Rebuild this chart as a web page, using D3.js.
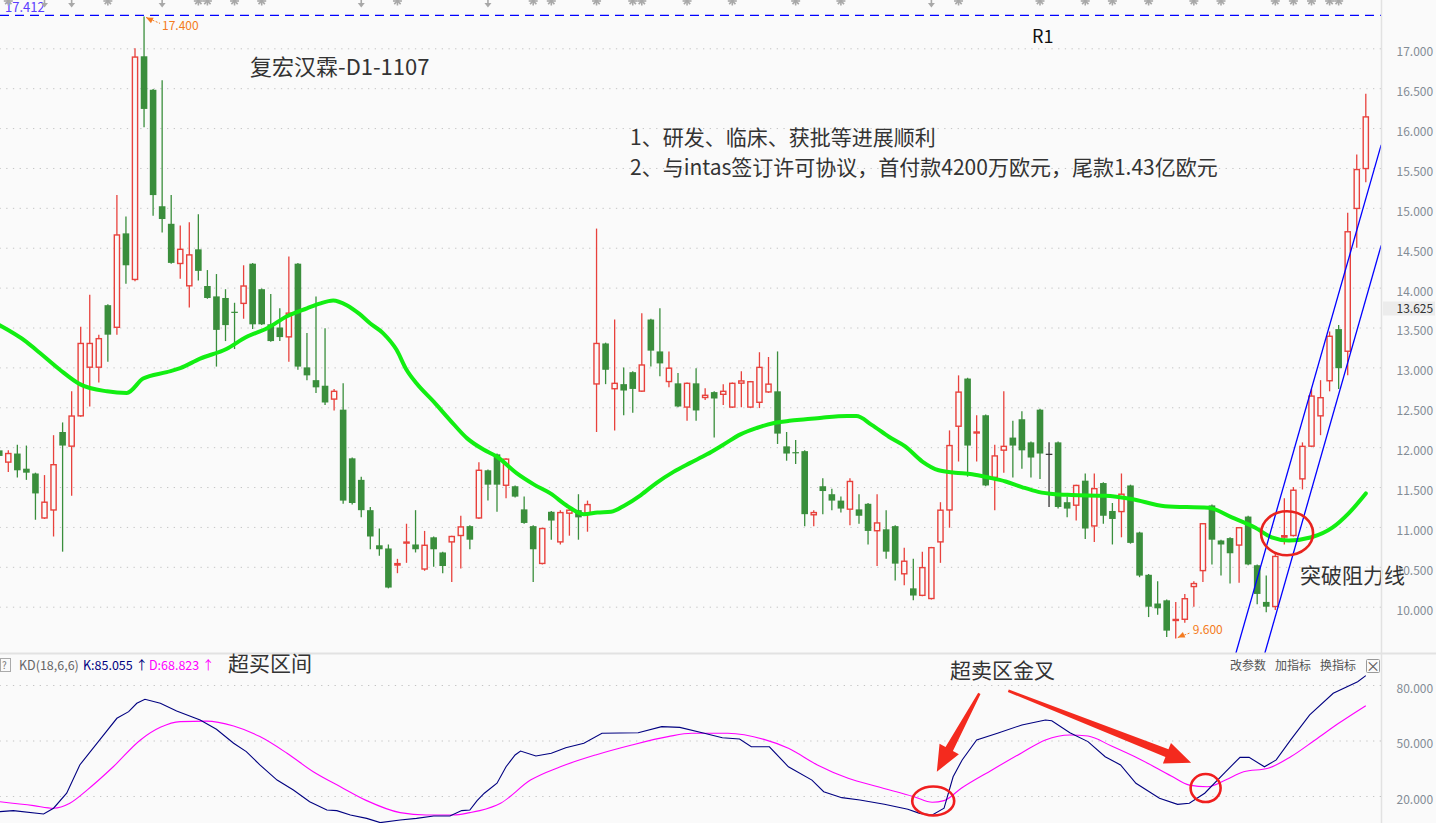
<!DOCTYPE html>
<html><head><meta charset="utf-8">
<script src="https://cdn.jsdelivr.net/npm/d3@7"></script>
<style>
html,body{margin:0;padding:0;background:#fafafa;overflow:hidden}
svg{display:block}
text{font-family:"Noto Sans CJK SC","Noto Sans",sans-serif}
</style></head><body>
<svg id="c" width="1436" height="823"></svg>
<script>
// ---------------- DATA ----------------
const candleOpen = [11.96,11.81,11.92,11.73,11.67,11.11,11.21,12.19,12.01,12.39,
13.00,13.00,13.78,13.50,14.68,14.10,16.90,16.48,15.02,14.80,
14.30,14.02,14.48,14.02,13.89,13.87,13.69,13.80,14.30,13.98,
13.54,13.50,13.38,14.30,13.00,12.84,12.77,12.60,12.47,11.86,
11.59,11.21,10.77,10.73,10.52,10.80,10.78,10.47,10.87,10.68,
10.81,10.89,11.01,11.11,11.71,11.91,11.52,11.51,11.22,11.01,
10.54,11.19,10.81,11.17,11.21,11.17,12.79,13.30,12.73,12.79,
12.94,12.70,13.60,13.20,12.82,12.80,12.50,12.80,12.62,12.69,
12.66,12.50,12.80,12.50,12.56,12.69,12.70,12.01,11.93,11.95,
11.15,11.51,11.41,11.33,11.22,11.22,11.29,10.95,10.97,11.01,
10.41,10.23,10.14,10.10,10.81,11.21,12.26,12.86,12.18,12.40,
11.62,11.96,12.12,12.35,12.06,12.47,11.91,12.06,11.31,11.27,
11.58,11.01,11.55,11.20,11.19,11.52,10.93,10.40,10.04,10.08,
9.83,9.84,10.25,10.45,11.27,10.83,10.86,10.77,11.13,10.52,
10.06,10.00,10.87,10.89,11.60,12.01,12.39,12.83,13.48,13.20,
14.99,15.49];
const candleHigh = [11.98,11.96,12.03,12.02,11.68,11.65,12.15,12.31,12.70,13.51,
13.91,13.41,13.79,15.16,14.89,17.00,17.40,16.49,16.60,15.16,
14.78,14.82,14.92,14.22,14.17,13.98,13.81,14.28,14.31,13.99,
13.92,13.74,14.39,14.31,13.43,13.89,13.49,12.73,12.80,11.87,
11.63,11.25,10.98,10.78,10.60,11.04,11.21,10.95,10.88,10.69,
10.89,11.14,11.02,11.81,11.72,11.92,11.86,11.52,11.38,11.02,
10.99,11.20,11.21,11.23,11.41,11.33,14.74,13.31,13.60,13.00,
12.95,13.68,13.61,13.74,13.20,12.93,12.81,12.99,12.74,12.70,
12.79,12.81,12.95,12.83,13.19,13.13,13.20,12.19,12.09,11.96,
11.21,11.61,11.48,11.38,11.61,11.41,11.30,11.41,11.21,11.02,
10.74,10.60,10.69,10.75,11.31,12.21,12.90,12.87,12.40,12.41,
12.03,12.70,12.33,12.45,12.07,12.48,12.06,12.07,11.38,11.53,
11.67,11.67,11.56,11.30,11.67,11.53,10.94,10.41,10.32,10.09,
10.06,10.16,10.32,11.05,11.28,10.84,10.87,11.00,11.14,10.53,
10.39,10.67,11.36,11.50,12.06,12.73,12.84,13.45,13.53,14.94,
15.67,16.43];
const candleLow = [11.87,11.69,11.62,11.59,11.09,11.10,10.88,10.69,11.39,12.38,
12.51,12.81,13.07,13.41,14.05,14.08,16.01,14.90,14.69,14.30,
14.11,13.75,14.09,13.86,13.01,13.33,13.23,13.61,13.48,13.53,
13.32,13.33,13.07,12.97,12.84,12.68,12.53,12.46,11.29,11.28,
11.12,10.72,10.64,10.23,10.42,10.55,10.68,10.45,10.50,10.42,
10.31,10.48,10.72,11.10,11.33,11.19,11.36,11.37,11.04,10.31,
10.53,10.84,10.78,10.89,10.84,10.94,12.19,12.79,12.21,12.40,
12.43,12.69,13.01,12.89,12.75,12.50,12.33,12.33,12.59,12.12,
12.53,12.49,12.50,12.49,12.49,12.68,12.04,11.83,11.79,11.01,
11.01,11.16,11.21,11.18,11.02,11.04,10.78,10.51,10.60,10.33,
10.27,10.08,10.13,10.09,10.55,10.99,11.82,11.63,11.82,11.51,
11.21,11.68,11.62,11.73,11.62,11.60,11.25,11.23,11.12,11.08,
10.85,10.81,11.04,10.78,10.87,10.79,10.37,9.87,9.90,9.62,
9.60,9.80,10.00,10.31,10.53,10.39,10.29,10.30,10.52,10.03,
9.93,9.96,10.78,10.88,11.47,12.00,12.15,12.70,12.73,12.90,
14.50,15.32];
const candleClose = [11.89,11.92,11.71,11.68,11.42,11.31,11.78,12.02,12.39,13.30,
13.30,13.36,13.41,14.66,14.28,16.89,16.24,15.16,14.86,14.31,
14.48,14.41,14.21,13.87,13.47,13.53,13.68,14.02,13.54,13.54,
13.33,13.38,13.68,13.01,12.90,12.75,12.56,12.70,11.33,11.30,
11.21,10.88,10.72,10.24,10.54,10.81,10.72,10.77,10.72,10.51,
10.88,11.00,10.84,11.71,11.53,11.53,11.85,11.38,11.05,10.72,
10.98,11.08,11.18,11.21,11.12,11.28,13.30,12.97,12.80,12.71,
12.73,13.03,13.21,13.05,12.99,12.51,12.80,12.46,12.65,12.61,
12.70,12.80,12.83,12.82,13.00,12.79,12.17,11.92,11.92,11.16,
11.18,11.45,11.33,11.23,11.57,11.14,10.95,11.05,10.69,10.54,
10.57,10.14,10.49,10.74,11.21,12.02,12.69,12.02,12.19,11.52,
11.89,12.01,12.02,11.96,11.87,11.92,11.91,11.25,11.23,11.52,
10.98,11.48,11.14,11.10,11.41,10.80,10.39,10.00,9.98,9.70,
9.84,10.10,10.29,11.04,10.84,10.78,10.67,10.99,10.53,10.16,
10.00,10.63,10.89,11.46,12.01,12.64,12.62,13.39,12.99,14.70,
15.48,16.14];

// moving average read at candle positions [candle index, price]
const maLine = [[0,13.53],[3,13.32],[4.5,13.18],[6.7,12.97],[8.9,12.79],[11.9,12.70],[14.1,12.68],[15.9,12.86],[18.5,12.94],[20,12.99],[22.2,13.11],[25.1,13.23],[27.3,13.38],[29.6,13.49],[31.8,13.64],[34,13.74],[35.4,13.80],[36.9,13.84],[38.4,13.78],[39.8,13.67],[41,13.55],[42.4,13.43],[43.9,13.22],[45,12.97],[46.1,12.80],[48,12.57],[49.8,12.34],[51.7,12.11],[53.5,11.97],[55,11.88],[57.2,11.67],[59.1,11.53],[60.9,11.42],[62.8,11.26],[64.6,11.16],[66.1,11.18],[67.6,11.19],[69.1,11.27],[70.9,11.40],[72.6,11.55],[74.5,11.69],[76.3,11.80],[78.2,11.91],[80,12.03],[81.9,12.16],[83.7,12.24],[85.5,12.30],[87.3,12.33],[89.1,12.35],[90.9,12.37],[93.7,12.39],[94.7,12.39],[96.4,12.28],[98.3,12.13],[100.1,12.01],[102,11.82],[103.8,11.71],[105.6,11.68],[107.5,11.66],[109.3,11.62],[111.2,11.57],[113,11.50],[114.8,11.44],[116.7,11.41],[118.5,11.40],[122.2,11.39],[125.1,11.35],[128.8,11.26],[133.6,11.24],[136.2,11.12],[138.8,10.99],[140.6,10.87],[142.5,10.83],[145,10.87],[147.3,10.99],[149.1,11.17],[151,11.42]];

// KD indicator read at candle positions [candle index, value]
const kLine = [[0,11.5],[1.55,12.1],[4.9,10.3],[6,13.4],[7.45,21.5],[8.9,36.8],[11.1,50.3],[13,62],[14.3,65.6],[15.2,70.1],[16.1,72.3],[17.8,70.1],[19.6,65.9],[22.2,61.1],[24,56.1],[25.9,48.5],[27.3,44],[28.8,36.8],[30.7,28.6],[32.5,23.2],[34.3,16.9],[36.2,12.4],[37.3,12.1],[38.8,9.7],[40.6,7.9],[42.1,5.6],[44.3,7],[46.1,7.9],[48,9.2],[49.8,9.2],[51.1,12.1],[52,12.4],[52.8,17.5],[53.6,21.5],[55,26.9],[56,35.8],[57,42.2],[57.6,44.3],[59.3,41.6],[61,43.1],[62.6,46.1],[64.6,48.5],[66.6,53.9],[70.6,54.2],[73.2,57.5],[75.2,57.1],[77.9,53.9],[79.9,51.5],[81.8,50.8],[83.1,46.6],[85.1,46.6],[87.2,35.8],[89.8,28.6],[91.1,22.3],[93.1,19.1],[95.1,17.8],[97.8,15.5],[100.4,12.8],[101.7,10.6],[103.1,9.7],[104.4,13.4],[105.4,30.4],[106.4,39.5],[108,50.3],[110.3,53.9],[113,58.4],[115.6,61.1],[116.3,60.7],[118.3,54.2],[120.3,49.4],[122.2,41.2],[123.9,36.8],[125.6,26.9],[128.2,18.8],[130.2,15.5],[131.5,16.1],[133.2,21.5],[135.5,33.1],[137.1,40.9],[138.1,40.9],[139.8,35.8],[141.1,39.5],[142.7,50.3],[144.8,63.8],[147.4,75.5],[150.1,81.8],[151,85.06]];
const dLine = [[0,16.9],[3.8,14.8],[6,13.4],[7.8,16.1],[9.7,23.2],[12.6,35.8],[15.6,50.3],[17.8,57.1],[20,60.2],[22.9,60.5],[25.9,57.8],[28.8,52.1],[31.8,43.1],[34.7,33.1],[37.7,25],[40.6,17.5],[44.3,11],[47.2,9.7],[50.2,9.7],[52,11],[53.1,12.1],[55.4,16.1],[58.7,28.6],[62,35.8],[65.9,42.2],[69.9,47.6],[73.9,52.1],[76.5,53.9],[80.5,53.9],[84.5,50.6],[87.2,45.8],[90.4,36.8],[93.8,29.6],[97.1,25],[101.1,19.6],[103.1,16.6],[104.4,17.5],[106.3,24.2],[109.7,34.1],[113,43.4],[115.6,50.3],[118.3,53],[120.3,52.4],[122.9,47],[126.2,39.5],[129.5,30.8],[131.5,25.9],[133.5,25],[135.5,28.6],[137.5,33.1],[140.2,35],[142.7,41.2],[145.4,50.3],[148,59.3],[151,68.82]];

const priceTicks = [10,10.5,11,11.5,12,12.5,13,13.5,14,14.5,15,15.5,16,16.5,17];
const kdTicks = [20,50,80];
const resistanceLevel = 17.412;
const currentMark = 13.625;
// channel lines [candle index, price]
const channelLines = [[[136.6,9.40],[152.7,15.79]],[[139.8,9.40],[152.7,14.53]]];
// event markers on top row [candle index, type]
const eventMarks = [[1,"s"],[5,"a"],[8,"a"],[12,"s"],[18,"a"],[22,"s"],[23,"s"],[26,"s"],[29,"s"],[40,"a"],[44,"s"],[54,"a"],[59,"s"],[61,"s"],[66,"s"],[70,"s"],[71,"s"],[76,"s"],[81,"s"],[88,"s"],[93,"s"],[103,"a"],[106,"s"],[115,"s"],[120,"s"],[123,"s"],[127,"s"],[132,"s"],[135,"s"],[141,"s"],[143,"s"],[145,"s"],[147,"s"],[148,"s"]];
const kdLegend = {name:"KD(18,6,6)", k:"K:85.055", d:"D:68.823"};

// ---------------- LAYOUT ----------------
const W=1436, H=823, AX=1381, PB=653;
const svg = d3.select("#c");
const x = d3.scaleLinear().domain([1,151]).range([8.3,1365.8]);
const y = d3.scaleLinear().domain([10,17]).range([606.7,48.3]);
const yk = d3.scaleLinear().domain([20,80]).range([796,685]);

const RED="#e8413c", GREEN="#3a8e3c", BG="#fafafa";
svg.append("rect").attr("width",W).attr("height",H).attr("fill",BG);

const defs = svg.append("defs");
defs.append("clipPath").attr("id","cp").append("rect").attr("x",0).attr("y",0).attr("width",AX).attr("height",PB);
defs.append("clipPath").attr("id","ck").append("rect").attr("x",0).attr("y",PB+1).attr("width",AX).attr("height",H-PB-1);

// gridlines price
const gridP = svg.append("g").attr("transform",`translate(${AX},0)`)
  .call(d3.axisLeft(y).tickValues(priceTicks).tickSize(AX).tickFormat(""));
gridP.select(".domain").remove();
gridP.selectAll("line").attr("stroke","#c4c4c4").attr("stroke-dasharray","1.3,5.4");

// price labels
const axP = svg.append("g").attr("transform",`translate(${AX},0)`)
  .call(d3.axisRight(y).tickValues(priceTicks).tickSize(0).tickPadding(15.5).tickFormat(d3.format(".3f")));
axP.select(".domain").remove();
axP.selectAll("text").attr("font-family","Liberation Sans, Arial, sans-serif").attr("font-size",12).attr("fill","#838c96").attr("dy","0.62em").attr("text-anchor","start");

// current price label box
svg.append("rect").attr("x",AX+2).attr("y",y(currentMark)-16).attr("width",52).attr("height",14).attr("fill","#ececec");
svg.append("text").attr("x",AX+15.5).attr("y",y(currentMark)-4.5).text(d3.format(".3f")(currentMark))
  .attr("font-family","Liberation Sans, Arial, sans-serif").attr("font-size",12).attr("fill","#333");

const pg = svg.append("g").attr("clip-path","url(#cp)");

// resistance dashed line
pg.append("line").attr("x1",0).attr("x2",AX).attr("y1",y(resistanceLevel)).attr("y2",y(resistanceLevel))
  .attr("stroke","#0000ff").attr("stroke-width",1.3).attr("stroke-dasharray","9,6");

// candles
const idx = d3.range(candleOpen.length);
const colorOf = i => candleClose[i]>candleOpen[i] ? RED : (candleClose[i]<candleOpen[i] ? GREEN : "#333");
const cg = pg.append("g");
cg.selectAll("line.w").data(idx).join("line").attr("class","w")
  .attr("x1",i=>x(i)).attr("x2",i=>x(i)).attr("y1",i=>y(candleHigh[i])).attr("y2",i=>y(candleLow[i]))
  .attr("stroke",colorOf).attr("stroke-width",1.3);
cg.selectAll("rect.b").data(idx).join("rect").attr("class","b")
  .each(function(i){
    const up = candleClose[i]>candleOpen[i];
    const top = y(Math.max(candleOpen[i],candleClose[i])), bot = y(Math.min(candleOpen[i],candleClose[i]));
    const h = Math.max(1.2, bot-top);
    const s = d3.select(this);
    if(up){
      s.attr("x",x(i)-2.6).attr("width",5.2).attr("y",top).attr("height",Math.max(1,h-0.2))
       .attr("fill",BG).attr("stroke",RED).attr("stroke-width",1.4);
    } else {
      s.attr("x",x(i)-3.3).attr("width",6.6).attr("y",top-(h<=1.2?0.6:0)).attr("height",h)
       .attr("fill",colorOf(i));
    }
  });

// moving average
pg.append("path").datum(maLine)
  .attr("d",d3.line().x(d=>x(d[0])).y(d=>y(d[1])).curve(d3.curveMonotoneX))
  .attr("fill","none").attr("stroke","#12ee12").attr("stroke-width",4).attr("stroke-linecap","round").attr("stroke-linejoin","round");

// channel lines
pg.selectAll("line.ch").data(channelLines).join("line").attr("class","ch")
  .attr("x1",d=>x(d[0][0])).attr("y1",d=>y(d[0][1])).attr("x2",d=>x(d[1][0])).attr("y2",d=>y(d[1][1]))
  .attr("stroke","#0000ff").attr("stroke-width",1.3);

// breakout ellipse
pg.append("ellipse").attr("cx",x(142.3)).attr("cy",y(10.92)).attr("rx",26).attr("ry",22)
  .attr("fill","none").attr("stroke","#e8231e").attr("stroke-width",2.6);

// high/low labels
const ORANGE="#f47b20";
const hiI = d3.maxIndex(candleHigh), loI = d3.minIndex(candleLow);
function tag(i,v,dx,dy,txdx,txdy,label){
  const px=x(i), py=y(v);
  const g=svg.append("g");
  g.append("line").attr("x1",px+2).attr("y1",py+ (dy>0?1:-1)).attr("x2",px+dx).attr("y2",py+dy)
   .attr("stroke",ORANGE).attr("stroke-width",1).attr("stroke-dasharray","2,1.5");
  const ang=Math.atan2(dy,dx-2);
  const ax=px+2, ay=py+(dy>0?1:-1);
  const p=[[ax,ay],[ax+7*Math.cos(ang)-3*Math.sin(ang),ay+7*Math.sin(ang)+3*Math.cos(ang)],[ax+7*Math.cos(ang)+3*Math.sin(ang),ay+7*Math.sin(ang)-3*Math.cos(ang)]];
  g.append("polygon").attr("points",p.map(d=>d.join(",")).join(" ")).attr("fill",ORANGE);
  g.append("text").attr("x",px+txdx).attr("y",py+txdy).text(label)
   .attr("font-family","Liberation Sans, Arial, sans-serif").attr("font-size",12).attr("fill",ORANGE);
}
tag(hiI,candleHigh[hiI],16,7,18,14,d3.format(".3f")(candleHigh[hiI]));
tag(loI,candleLow[loI],15,-6,17,-5,d3.format(".3f")(candleLow[loI]));

// top-left resistance label
svg.append("text").attr("x",5).attr("y",12).text(d3.format(".3f")(resistanceLevel))
  .attr("font-family","Liberation Sans, Arial, sans-serif").attr("font-size",13).attr("fill","#5b3cff");

// event marks
const em = svg.append("g").attr("fill","#a8a8a8").attr("stroke","#a8a8a8");
eventMarks.forEach(([i,t])=>{
  const cx=x(i);
  if(t==="s"){
    for(let k=0;k<4;k++){
      const a=k*Math.PI/4;
      em.append("line").attr("x1",cx-4.5*Math.cos(a)).attr("y1",1-4.5*Math.sin(a)).attr("x2",cx+4.5*Math.cos(a)).attr("y2",1+4.5*Math.sin(a)).attr("stroke-width",1.6);
    }
  } else {
    em.append("line").attr("x1",cx).attr("x2",cx).attr("y1",-2).attr("y2",5).attr("stroke-width",1.6);
    em.append("polygon").attr("points",`${cx-3.5},3 ${cx+3.5},3 ${cx},7.5`).attr("stroke","none");
  }
});

// annotation texts
const T = (tx,ty,s,size,fill)=>svg.append("text").attr("x",tx).attr("y",ty).text(s).attr("font-size",size).attr("fill",fill||"#333");
T(250,75,"复宏汉霖-D1-1107",22);
T(1032,43,"R1",18,"#111");
T(630,145,"1、研发、临床、获批等进展顺利",21);
T(630,175,"2、与intas签订许可协议，首付款4200万欧元，尾款1.43亿欧元",21);
T(1300,583,"突破阻力线",21);

// ---------------- KD PANEL ----------------
svg.append("line").attr("x1",0).attr("x2",W).attr("y1",PB+0.5).attr("y2",PB+0.5).attr("stroke","#e2e2e2").attr("stroke-width",2);
svg.append("line").attr("x1",AX+0.5).attr("x2",AX+0.5).attr("y1",0).attr("y2",H).attr("stroke","#e2e2e2").attr("stroke-width",1.5);

const gridK = svg.append("g").attr("transform",`translate(${AX},0)`)
  .call(d3.axisLeft(yk).tickValues(kdTicks).tickSize(AX).tickFormat(""));
gridK.select(".domain").remove();
gridK.selectAll("line").attr("stroke","#c4c4c4").attr("stroke-dasharray","1.3,5.4");
const axK = svg.append("g").attr("transform",`translate(${AX},0)`)
  .call(d3.axisRight(yk).tickValues(kdTicks).tickSize(0).tickPadding(15.5).tickFormat(d3.format(".3f")));
axK.select(".domain").remove();
axK.selectAll("text").attr("font-family","Liberation Sans, Arial, sans-serif").attr("font-size",12).attr("fill","#838c96").attr("dy","0.62em");

const kg = svg.append("g").attr("clip-path","url(#ck)");
kg.append("path").datum(dLine).attr("d",d3.line().x(d=>x(d[0])).y(d=>yk(d[1])).curve(d3.curveMonotoneX))
  .attr("fill","none").attr("stroke","#ff00ff").attr("stroke-width",1.1);
kg.append("path").datum(kLine).attr("d",d3.line().x(d=>x(d[0])).y(d=>yk(d[1])))
  .attr("fill","none").attr("stroke","#000080").attr("stroke-width",1.1);

// KD circles
[[103.2,17.3,21,14.5],[133.3,24.3,15,14]].forEach(c=>{
  svg.append("ellipse").attr("cx",x(c[0])).attr("cy",yk(c[1])).attr("rx",c[2]).attr("ry",c[3])
   .attr("fill","none").attr("stroke","#f01e1e").attr("stroke-width",2.6);
});
// arrows
function arrowPts(x1,y1,x2,y2){
  const dx=x2-x1, dy=y2-y1, L=Math.hypot(dx,dy), ux=dx/L, uy=dy/L, nx=-uy, ny=ux;
  const hl=26, hw=11, bx=x2-ux*hl, by=y2-uy*hl;
  return [[x1+nx*1.3,y1+ny*1.3],[bx+nx*4.2,by+ny*4.2],[bx+nx*hw,by+ny*hw],[x2,y2],[bx-nx*hw,by-ny*hw],[bx-nx*4.2,by-ny*4.2],[x1-nx*1.3,y1-ny*1.3]];
}
[[[108.3,75.5],[103.6,33.1]],[[111.5,76.9],[131.7,38.0]]].forEach(a=>{
  const p=arrowPts(x(a[0][0]),yk(a[0][1]),x(a[1][0]),yk(a[1][1]));
  svg.append("polygon").attr("points",p.map(d=>d.join(",")).join(" ")).attr("fill","#f42a1e");
});

// legend
svg.append("rect").attr("x",0.5).attr("y",658.5).attr("width",10).attr("height",13).attr("fill","none").attr("stroke","#aaa");
svg.append("text").attr("x",2).attr("y",669).text("?").attr("font-size",10).attr("fill","#777").attr("font-family","Liberation Sans, Arial");
const lg = svg.append("text").attr("y",670).attr("font-family","Liberation Sans, Arial, sans-serif").attr("font-size",12.5);
lg.append("tspan").attr("x",19).attr("fill","#666").text(kdLegend.name);
lg.append("tspan").attr("x",83).attr("fill","#000080").text(kdLegend.k+" ↑");
lg.append("tspan").attr("x",149).attr("fill","#ff00ff").text(kdLegend.d+" ↑");
T(228,671,"超买区间",21);
T(950,678,"超卖区金叉",21);
const rl = svg.append("text").attr("y",670).attr("font-size",12).attr("fill","#555");
rl.append("tspan").attr("x",1230).text("改参数");
rl.append("tspan").attr("x",1275).text("加指标");
rl.append("tspan").attr("x",1320).text("换指标");
svg.append("rect").attr("x",1366.5).attr("y",659.5).attr("width",13).attr("height",13).attr("rx",1).attr("fill","#fafafa").attr("stroke","#999");
svg.append("text").attr("x",1373).attr("y",670.5).attr("text-anchor","middle").text("×").attr("font-size",14).attr("fill","#555").attr("font-family","Liberation Sans, Arial");
</script>
</body></html>
